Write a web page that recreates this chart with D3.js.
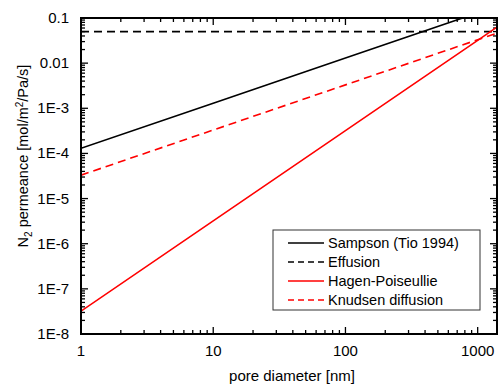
<!DOCTYPE html>
<html>
<head>
<meta charset="utf-8">
<script src="https://cdn.jsdelivr.net/npm/d3@7"></script>
<style>
  body { margin: 0; background: #fff; }
  text { font-family: "Liberation Sans", Arial, sans-serif; }
</style>
</head>
<body>
<div id="chart"></div>
<script>
// pore diameters [nm] and N2 permeance [mol/m2/Pa/s]
const diameters = [1, 10, 100, 1000, 1400];
const sampson = [1.3e-4, 1.3e-3, 1.3e-2, 0.13, 0.18];
const effusion = [0.05, 0.05, 0.05, 0.05, 0.05];
const hagen = [3.2e-8, 3.2e-6, 3.2e-4, 3.2e-2, 0.063];
const knudsen = [3.3e-5, 3.3e-4, 3.3e-3, 3.3e-2, 0.046];

const xTicks = [1, 10, 100, 1000];
const yTicks = [0.1, 0.01, 1e-3, 1e-4, 1e-5, 1e-6, 1e-7, 1e-8];
const yTickLabels = ['0.1', '0.01', '1E-3', '1E-4', '1E-5', '1E-6', '1E-7', '1E-8'];

const series = [
  { name: 'Sampson (Tio 1994)', values: sampson, color: '#000', dash: null },
  { name: 'Effusion', values: effusion, color: '#000', dash: '8,5' },
  { name: 'Hagen-Poiseullie', values: hagen, color: '#ff0000', dash: null },
  { name: 'Knudsen diffusion', values: knudsen, color: '#ff0000', dash: '8,5' },
];

const width = 502, height = 386;
const margin = { top: 18, right: 5, bottom: 52, left: 81 };
const w = width - margin.left - margin.right;
const h = height - margin.top - margin.bottom;

const svg = d3.select('#chart').append('svg')
  .attr('width', width).attr('height', height);
const g = svg.append('g').attr('transform', `translate(${margin.left},${margin.top})`);

const x = d3.scaleLog().domain([1, 1400]).range([0, w]);
const y = d3.scaleLog().domain([1e-8, 0.1]).range([h, 0]);

// minor tick values
const xMinor = [];
for (let p = 0; p <= 3; p++) for (let k = 2; k <= 9; k++) { const v = k * 10 ** p; if (v < 1400) xMinor.push(v); }
const yMinor = [];
for (let p = -8; p < -1; p++) for (let k = 2; k <= 9; k++) yMinor.push(k * 10 ** p);

function tickLines(sel, vals, len, horizontal) {
  vals.forEach(v => {
    if (horizontal) {
      sel.append('line').attr('x1', x(v)).attr('x2', x(v)).attr('y1', h).attr('y2', h - len);
      sel.append('line').attr('x1', x(v)).attr('x2', x(v)).attr('y1', 0).attr('y2', len);
    } else {
      sel.append('line').attr('y1', y(v)).attr('y2', y(v)).attr('x1', 0).attr('x2', len);
      sel.append('line').attr('y1', y(v)).attr('y2', y(v)).attr('x1', w).attr('x2', w - len);
    }
  });
}
const ticks = g.append('g').attr('stroke', '#000').attr('stroke-width', 1.3);
tickLines(ticks, xTicks, 7, true);
tickLines(ticks, xMinor, 4, true);
tickLines(ticks, yTicks, 7, false);
tickLines(ticks, yMinor, 4, false);

// tick labels
g.selectAll('.xl').data(xTicks).enter().append('text')
  .attr('x', d => x(d)).attr('y', h + 22)
  .attr('text-anchor', 'middle').attr('font-size', 15).text(d => d);
g.selectAll('.yl').data(yTicks).enter().append('text')
  .attr('x', -12).attr('y', d => y(d) + 5)
  .attr('text-anchor', 'end').attr('font-size', 15).text((d, i) => yTickLabels[i]);

// data lines
svg.append('defs').append('clipPath').attr('id', 'clip')
  .append('rect').attr('width', w).attr('height', h);
const line = d3.line().x(d => x(d[0])).y(d => y(d[1]));
g.append('g').attr('clip-path', 'url(#clip)').selectAll('path').data(series).enter().append('path')
  .attr('d', s => line(diameters.map((d, i) => [d, s.values[i]])))
  .attr('fill', 'none').attr('stroke', s => s.color).attr('stroke-width', 1.6)
  .attr('stroke-dasharray', s => s.dash);

// frame
g.append('rect').attr('width', w).attr('height', h)
  .attr('fill', 'none').attr('stroke', '#000').attr('stroke-width', 2);

// legend
const lg = g.append('g').attr('transform', `translate(${273 - margin.left},${230 - margin.top})`);
lg.append('rect').attr('width', 207).attr('height', 80)
  .attr('fill', '#fff').attr('stroke', '#333').attr('stroke-width', 1);
series.forEach((s, i) => {
  const yy = 13 + i * 19;
  lg.append('line').attr('x1', 15).attr('x2', 51).attr('y1', yy).attr('y2', yy)
    .attr('stroke', s.color).attr('stroke-width', 1.6).attr('stroke-dasharray', s.dash ? '6,4' : null);
  lg.append('text').attr('x', 55).attr('y', yy + 5).attr('font-size', 14.5).text(s.name);
});

// axis titles
svg.append('text').attr('x', 292).attr('y', 381)
  .attr('text-anchor', 'middle').attr('font-size', 15).text('pore diameter [nm]');
const yt = svg.append('text').attr('transform', `translate(28,156) rotate(-90)`)
  .attr('text-anchor', 'middle').attr('font-size', 14.5);
yt.append('tspan').text('N');
yt.append('tspan').attr('font-size', 10).attr('dy', 4).text('2');
yt.append('tspan').attr('dy', -4).text(' permeance [mol/m');
yt.append('tspan').attr('font-size', 10).attr('dy', -5).text('2');
yt.append('tspan').attr('dy', 5).text('/Pa/s]');
</script>
</body>
</html>
